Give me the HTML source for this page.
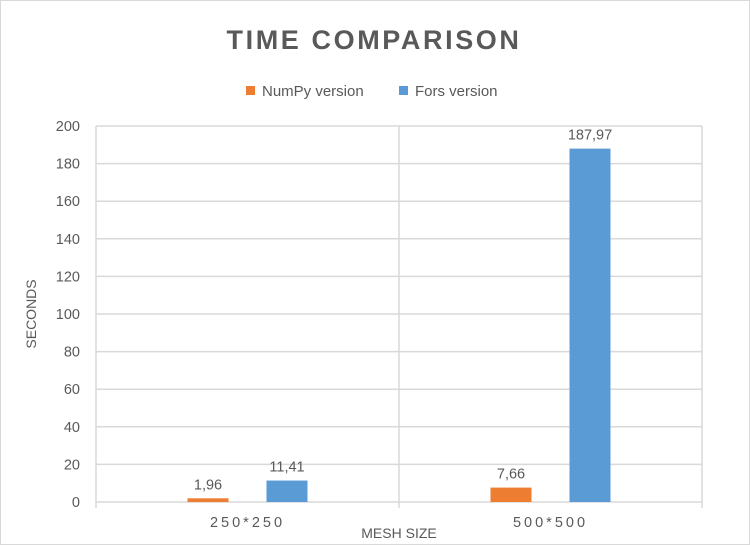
<!DOCTYPE html>
<html><head><meta charset="utf-8"><style>
body{margin:0;background:#fff;}
svg{display:block;font-family:"Liberation Sans",sans-serif;}
</style></head><body>
<svg width="750" height="545">
<rect x="0.5" y="0.5" width="749" height="544" fill="#fff" stroke="#d9d9d9"/>
<text x="374" y="49" text-anchor="middle" font-size="27" font-weight="bold" fill="#595959" letter-spacing="2.6">TIME  COMPARISON</text>
<g>
<rect x="246" y="86" width="9" height="9" fill="#ed7d31"/>
<text x="262" y="96" font-size="15" fill="#595959">NumPy version</text>
<rect x="399" y="86" width="9" height="9" fill="#5b9bd5"/>
<text x="415" y="96" font-size="15" fill="#595959">Fors version</text>
</g>
<g id="grid"></g><g id="bars"></g><g id="labels"></g>
<text transform="translate(36,314) rotate(-90)" text-anchor="middle" font-size="14" fill="#595959">SECONDS</text>
<text x="399" y="538" text-anchor="middle" font-size="14" fill="#595959">MESH SIZE</text>
</svg>
<script>
const categories=["250*250","500*500"];
const numpyValues=[1.96,7.66];
const forsValues=[11.41,187.97];
const numpyLabels=["1,96","7,66"];
const forsLabels=["11,41","187,97"];
const yTicks=[0,20,40,60,80,100,120,140,160,180,200];
const ns="http://www.w3.org/2000/svg";
const X0=96,X1=702,Y0=502,Y1=126,YMAX=200;
const y=v=>Y0-(v/YMAX)*(Y0-Y1);
const bw=(X1-X0)/categories.length;
const xc=i=>X0+bw*(i+0.5);
function mk(t,a,p){const e=document.createElementNS(ns,t);for(const k in a)e.setAttribute(k,a[k]);p.appendChild(e);return e;}
const g=document.getElementById('grid'),b=document.getElementById('bars'),l=document.getElementById('labels');
yTicks.forEach(t=>{
 const ln=mk('line',{x1:X0,x2:X1,y1:y(t),y2:y(t),stroke:'#d9d9d9','stroke-width':1.5},g);
 
 
 const tx=mk('text',{x:80,y:y(t)+5,'text-anchor':'end','font-size':14.5,fill:'#595959'},g);
 tx.textContent=t;
 
 
});
for(let i=0;i<=categories.length;i++){
 const x=X0+bw*i;
 const ln=mk('line',{x1:x,x2:x,y1:Y1,y2:Y0+6,stroke:'#d9d9d9','stroke-width':1.5},g);
 
 
}
categories.forEach((c,i)=>{
 const tx=mk('text',{x:xc(i),y:527,'text-anchor':'middle','font-size':14.5,fill:'#595959','letter-spacing':3},l);
 tx.textContent=c;
 
 
 [[numpyValues,numpyLabels,'#ed7d31',-39.5,'numpy'],[forsValues,forsLabels,'#5b9bd5',39.5,'fors']].forEach(([vals,labs,col,off,nm])=>{
  const cx=xc(i)+off,w=41;
  const r=mk('rect',{x:cx-w/2,y:y(vals[i]),width:w,height:Y0-y(vals[i]),fill:col},b);
  
  
  const t=mk('text',{x:cx,y:y(vals[i])-9,'text-anchor':'middle','font-size':14.5,fill:'#595959'},l);
  t.textContent=labs[i];
  
  
 });
});
</script>
</body></html>
